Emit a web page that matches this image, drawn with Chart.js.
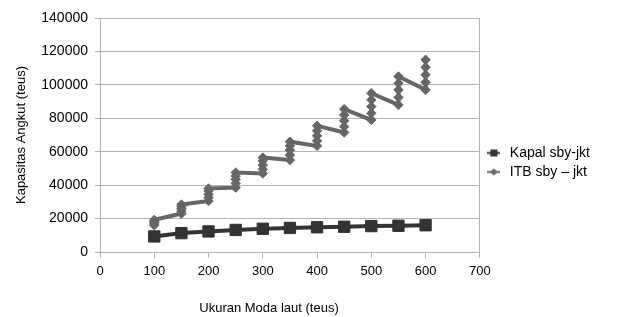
<!DOCTYPE html>
<html>
<head>
<meta charset="utf-8">
<script src="https://cdn.jsdelivr.net/npm/chart.js@4/dist/chart.umd.min.js"></script>
<style>
html,body{margin:0;padding:0;background:#fff;}
#wrap{width:625px;height:317px;position:relative;}
</style>
</head>
<body>
<div id="wrap"><canvas id="c" width="625" height="317"></canvas></div>
<script>
// Ukuran moda laut (teus) – x positions
const modaSizes = [100, 150, 200, 250, 300, 350, 400, 450, 500, 550, 600];
// Kapal sby-jkt (one value per size)
const kapalValues = [9300, 11300, 12300, 13200, 13900, 14400, 14800, 15100, 15500, 15700, 16000];
// ITB sby – jkt (several values per size, low to high)
const itbValues = [
  [16000, 16800, 17600, 18400, 19200],
  [23000, 24500, 26000, 27200, 28400],
  [30500, 32500, 34500, 36500, 38000],
  [38500, 41000, 43500, 45500, 47500],
  [47000, 49500, 52000, 54500, 56500],
  [55000, 58000, 61000, 63500, 66000],
  [63500, 66500, 69500, 72500, 75500],
  [71500, 75000, 78500, 82000, 85500],
  [79000, 83000, 87000, 91000, 95000],
  [88000, 92500, 97000, 101000, 105000],
  [97000, 101500, 106000, 110500, 115000]
];
const xTicks = [0, 100, 200, 300, 400, 500, 600, 700];
const yTicks = [0, 20000, 40000, 60000, 80000, 100000, 120000, 140000];
const seriesNames = ['Kapal sby-jkt', 'ITB sby \u2013 jkt'];
const xTitle = 'Ukuran Moda laut (teus)';
const yTitle = 'Kapasitas Angkut (teus)';

const kapalPoints = modaSizes.map((s, i) => ({x: s, y: kapalValues[i]}));
const itbPoints = modaSizes.flatMap((s, i) => itbValues[i].map(v => ({x: s, y: v})));

const FONT = 'Liberation Sans, Arial, sans-serif';
const gridGrey = '#b3b3b3';
const kapalColor = '#333333';
const itbColor = '#666666';

function legendIcon(kind, color) {
  const c = document.createElement('canvas');
  c.width = 13; c.height = 9;
  const g = c.getContext('2d');
  g.strokeStyle = color; g.fillStyle = color; g.lineWidth = 2;
  g.beginPath(); g.moveTo(0, 4.5); g.lineTo(13, 4.5); g.stroke();
  g.beginPath();
  if (kind === 'rect') { g.rect(3, 1, 7, 7); }
  else { g.moveTo(6.5, 1); g.lineTo(10.5, 4.5); g.lineTo(6.5, 8); g.lineTo(2.5, 4.5); g.closePath(); }
  g.fill();
  return c;
}
const legendIcons = [legendIcon('rect', kapalColor), legendIcon('rectRot', itbColor)];

const xTitlePlugin = {
  id: 'xTitle',
  afterDraw(chart) {
    const ctx = chart.ctx;
    ctx.save();
    ctx.font = '13px ' + FONT;
    ctx.fillStyle = '#000';
    ctx.textAlign = 'center';
    ctx.textBaseline = 'middle';
    ctx.fillText(xTitle, 269, 308);
    ctx.restore();
  }
};

new Chart(document.getElementById('c'), {
  type: 'line',
  data: {
    datasets: [
      {
        label: seriesNames[0],
        data: kapalPoints,
        borderColor: kapalColor,
        backgroundColor: kapalColor,
        borderWidth: 4,
        pointStyle: 'rect',
        pointRadius: 8,
        pointBorderWidth: 1,
        tension: 0
      },
      {
        label: seriesNames[1],
        data: itbPoints,
        borderColor: itbColor,
        backgroundColor: itbColor,
        borderWidth: 4,
        pointStyle: 'rectRot',
        pointRadius: 4.7,
        pointBorderWidth: 1,
        tension: 0
      }
    ]
  },
  options: {
    responsive: false,
    animation: false,
    layout: { padding: { top: 18, right: 25, left: 14, bottom: 10 } },
    plugins: {
      legend: {
        position: 'right',
        labels: {
          font: { family: FONT, size: 14 },
          color: '#000',
          usePointStyle: true,
          pointStyleWidth: 18,
          boxHeight: 9,
          padding: 5,
          generateLabels: chart => {
            const items = Chart.defaults.plugins.legend.labels.generateLabels(chart);
            items.forEach((it, i) => { it.pointStyle = legendIcons[i]; });
            return items;
          }
        }
      },
      tooltip: { enabled: false }
    },
    scales: {
      x: {
        type: 'linear',
        min: 0, max: 700,
        afterBuildTicks: s => { s.ticks = xTicks.map(v => ({value: v})); },
        afterFit: s => { s.height = 55; },
        ticks: { font: { family: FONT, size: 13 }, color: '#000', padding: 6, callback: v => String(v) },
        grid: {
          drawOnChartArea: true,
          color: ctx => (ctx.tick && ctx.tick.value === 700) ? gridGrey : 'rgba(0,0,0,0)',
          tickColor: gridGrey,
          tickLength: 6,
          lineWidth: 1
        },
        border: { color: gridGrey, width: 1 }
      },
      y: {
        min: 0, max: 140000,
        afterBuildTicks: s => { s.ticks = yTicks.map(v => ({value: v})); },
        afterFit: s => { s.width = 86; },
        ticks: { font: { family: FONT, size: 14 }, color: '#000', padding: 7, callback: v => String(v) },
        grid: { color: gridGrey, tickColor: gridGrey, tickLength: 5, lineWidth: 1 },
        border: { color: gridGrey, width: 1 },
        title: { display: true, text: yTitle, font: { family: FONT, size: 13 }, color: '#000', padding: { top: 0, bottom: 0 } }
      }
    }
  },
  plugins: [xTitlePlugin]
});
</script>
</body>
</html>
